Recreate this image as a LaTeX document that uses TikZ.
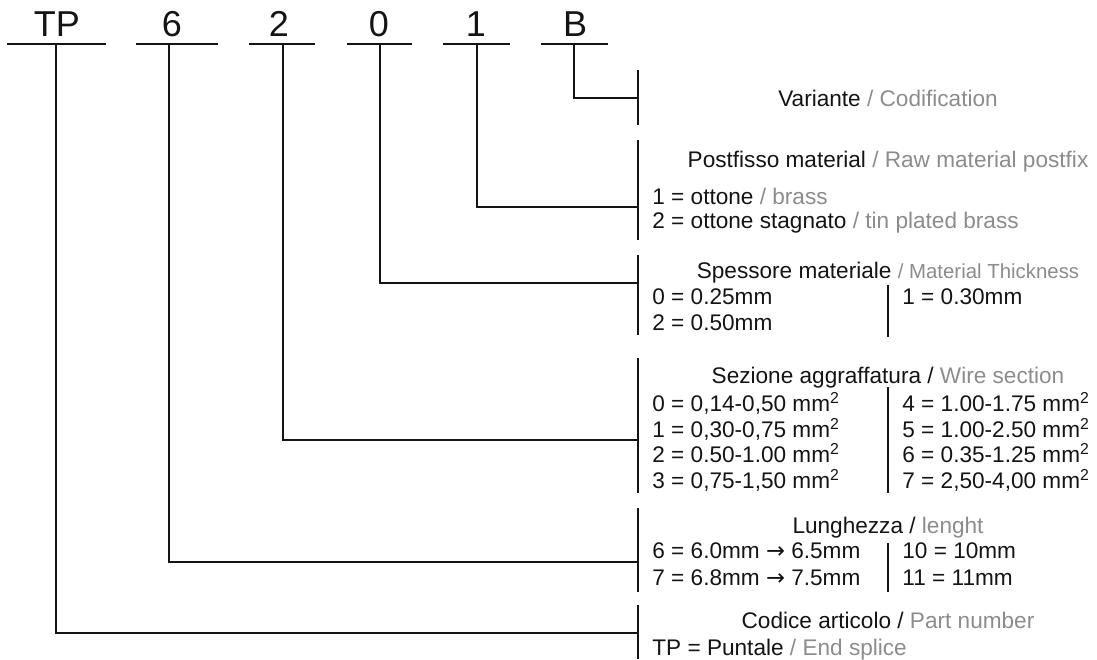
\documentclass[tikz,border=0pt]{standalone}
\usepackage{fontspec}
\setmainfont{Liberation Sans}
\newfontfamily\arrowfont{DejaVu Sans}
\definecolor{ink}{gray}{0.08}
\definecolor{engl}{gray}{0.55}
\newcommand{\eng}[1]{\textcolor{engl}{#1}}
\newcommand{\sq}{\textsuperscript{2}}
\newcommand{\toarrow}{{\arrowfont →}}
\tikzset{
  codechar/.style={inner sep=0pt, anchor=base, text=ink, font=\fontsize{18}{21}\selectfont},
  grouptitle/.style={inner sep=0pt, anchor=base, text=ink, font=\fontsize{11.3}{13}\selectfont},
  entry/.style={inner sep=0pt, anchor=base west, text=ink, font=\fontsize{11.3}{13}\selectfont},
  wire/.style={draw=ink, line width=0.55pt},
}
\begin{document}
\begin{tikzpicture}[x=0.5pt, y=-0.5pt]
\useasboundingbox (0,0) rectangle (1097,659);

% code letters with their underlines
\node [codechar] (cTP) at (57,36) {TP};
\node [codechar] (c6) at (172,36) {6};
\node [codechar] (c2) at (279,36) {2};
\node [codechar] (c0) at (379,36) {0};
\node [codechar] (c1) at (476,36) {1};
\node [codechar] (cB) at (575,36) {B};
\draw [wire] (7,44) -- (106,44);
\draw [wire] (136,44) -- (218,44);
\draw [wire] (249,44) -- (315,44);
\draw [wire] (347,44) -- (412,44);
\draw [wire] (443,44) -- (510,44);
\draw [wire] (541,44) -- (608,44);
\coordinate (uTP) at (56,44);
\coordinate (u6) at (169,44);
\coordinate (u2) at (283,44);
\coordinate (u0) at (380,44);
\coordinate (u1) at (477,44);
\coordinate (uB) at (574,44);

% brackets on the right
\draw [wire] (638,70) -- (638,125);
\draw [wire] (638,140) -- (638,240);
\draw [wire] (638,255) -- (638,335);
\draw [wire] (638,358) -- (638,493);
\draw [wire] (638,508) -- (638,592);
\draw [wire] (638,605) -- (638,659);
\coordinate (jB) at (638,98);
\coordinate (j1) at (638,207);
\coordinate (j0) at (638,283);
\coordinate (j2) at (638,440);
\coordinate (j6) at (638,562);
\coordinate (jTP) at (638,633);

% leaders
\draw [wire] (uB) |- (jB);
\draw [wire] (u1) |- (j1);
\draw [wire] (u0) |- (j0);
\draw [wire] (u2) |- (j2);
\draw [wire] (u6) |- (j6);
\draw [wire] (uTP) |- (jTP);

% variante
\node [grouptitle] (tB) at (888,106) {Variante \eng{/ Codification}};

% postfisso
\node [grouptitle] (t1) at (888,167) {Postfisso material \eng{/ Raw material postfix}};
\node [entry] (e1a) at (652,204) {1 = ottone \eng{/ brass}};
\node [entry] (e1b) at (652,228) {2 = ottone stagnato \eng{/ tin plated brass}};

% spessore
\node [grouptitle] (t0) at (888,278) {Spessore materiale {\fontsize{10.2}{12}\selectfont\eng{/ Material Thickness}}};
\node [entry] (e0a) at (652,304) {0 = 0.25mm};
\node [entry] (e0b) at (652,330) {2 = 0.50mm};
\node [entry] (e0c) at (902,304) {1 = 0.30mm};
\draw [wire] (888,285) -- (888,337);

% sezione
\node [grouptitle] (t2) at (888,383) {Sezione aggraffatura / \eng{Wire section}};
\node [entry] (e2a) at (652,411) {0 = 0,14-0,50 mm\sq};
\node [entry] (e2b) at (652,437) {1 = 0,30-0,75 mm\sq};
\node [entry] (e2c) at (652,462) {2 = 0.50-1.00 mm\sq};
\node [entry] (e2d) at (652,488) {3 = 0,75-1,50 mm\sq};
\node [entry] (e2e) at (902,411) {4 = 1.00-1.75 mm\sq};
\node [entry] (e2f) at (902,437) {5 = 1.00-2.50 mm\sq};
\node [entry] (e2g) at (902,462) {6 = 0.35-1.25 mm\sq};
\node [entry] (e2h) at (902,488) {7 = 2,50-4,00 mm\sq};
\draw [wire] (888,387) -- (888,493);

% lunghezza
\node [grouptitle] (t6) at (888,533) {Lunghezza / \eng{lenght}};
\node [entry] (e6a) at (652,558) {6 = 6.0mm \toarrow{} 6.5mm};
\node [entry] (e6b) at (652,585) {7 = 6.8mm \toarrow{} 7.5mm};
\node [entry] (e6c) at (902,558) {10 = 10mm};
\node [entry] (e6d) at (902,585) {11 = 11mm};
\draw [wire] (888,543) -- (888,592);

% codice
\node [grouptitle] (tTP) at (888,628) {Codice articolo / \eng{Part number}};
\node [entry] (eTP) at (652,655) {TP = Puntale \eng{/ End splice}};
\end{tikzpicture}
\end{document}
